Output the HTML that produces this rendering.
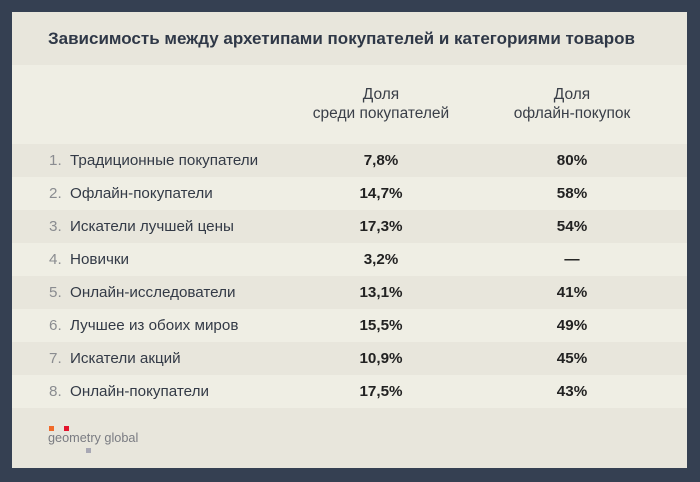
<!DOCTYPE html>
<html><head><meta charset="utf-8"><style>
body{margin:0;width:700px;height:482px;background:#354052;font-family:"Liberation Sans","DejaVu Sans",sans-serif;position:relative;overflow:hidden}
#p{position:absolute;left:12px;top:12px;width:675px;height:456px;background:#e8e6dc}
.t{position:absolute;left:36px;top:17px;font-size:17px;font-weight:bold;color:#2f3847;white-space:nowrap}
.body{position:absolute;left:0;top:53px;width:675px;height:343px;background:#efeee4}
.h{position:absolute;top:73px;font-size:15.5px;color:#3a3f48;text-align:center;line-height:19px;width:220px}
.r{position:absolute;left:0;width:675px;height:33px;font-size:15.2px;line-height:33px;color:#333a46}
.r.d{background:#e8e6dc}
.n{position:absolute;left:37px;color:#8a8c90}
.l{position:absolute;left:58px}
.v{position:absolute;width:100px;text-align:center;font-weight:bold;color:#222}
</style></head><body>
<div id="p">
<div class="t">Зависимость между архетипами покупателей и категориями товаров</div>
<div class="body"></div>
<div class="h" style="left:259px">Доля<br>среди покупателей</div>
<div class="h" style="left:450px">Доля<br>офлайн-покупок</div>
<div class="r d" style="top:132px"><span class="n">1.</span><span class="l">Традиционные покупатели</span><span class="v" style="left:319px">7,8%</span><span class="v" style="left:510px">80%</span></div>
<div class="r" style="top:165px"><span class="n">2.</span><span class="l">Офлайн-покупатели</span><span class="v" style="left:319px">14,7%</span><span class="v" style="left:510px">58%</span></div>
<div class="r d" style="top:198px"><span class="n">3.</span><span class="l">Искатели лучшей цены</span><span class="v" style="left:319px">17,3%</span><span class="v" style="left:510px">54%</span></div>
<div class="r" style="top:231px"><span class="n">4.</span><span class="l">Новички</span><span class="v" style="left:319px">3,2%</span><span class="v" style="left:510px">—</span></div>
<div class="r d" style="top:264px"><span class="n">5.</span><span class="l">Онлайн-исследователи</span><span class="v" style="left:319px">13,1%</span><span class="v" style="left:510px">41%</span></div>
<div class="r" style="top:297px"><span class="n">6.</span><span class="l">Лучшее из обоих миров</span><span class="v" style="left:319px">15,5%</span><span class="v" style="left:510px">49%</span></div>
<div class="r d" style="top:330px"><span class="n">7.</span><span class="l">Искатели акций</span><span class="v" style="left:319px">10,9%</span><span class="v" style="left:510px">45%</span></div>
<div class="r" style="top:363px"><span class="n">8.</span><span class="l">Онлайн-покупатели</span><span class="v" style="left:319px">17,5%</span><span class="v" style="left:510px">43%</span></div>
<div style="position:absolute;left:37px;top:414px;width:5px;height:5px;background:#f06a2a"></div>
<div style="position:absolute;left:52px;top:414px;width:5px;height:5px;background:#e3142c"></div>
<div style="position:absolute;left:36px;top:419px;font-size:12.7px;color:#7a7c82">geometry global</div>
<div style="position:absolute;left:74px;top:436px;width:5px;height:5px;background:#a8a8b4"></div>
</div>
</body></html>
